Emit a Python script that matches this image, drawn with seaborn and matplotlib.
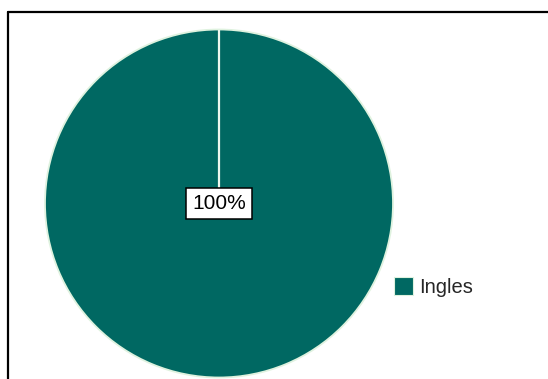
import matplotlib
matplotlib.use("Agg")
import matplotlib.pyplot as plt
from matplotlib.lines import Line2D
from matplotlib.patches import Patch
import seaborn as sns

sns.set_theme(style="white")
plt.rcParams["font.family"] = ["Liberation Sans", "DejaVu Sans"]

categories = ["Ingles"]
values = [100]
colors = ["#006862"]

W, H = 548, 379
fig = plt.figure(figsize=(W / 100, H / 100), dpi=100)
fig.patch.set_facecolor("white")

# pie axes: centre (219, 203.5) px, radius 174 px
cx, cy, r = 219, 203.5, 174
ax = fig.add_axes([(cx - r) / W, (H - cy - r) / H, 2 * r / W, 2 * r / H])
wedges, _ = ax.pie(values, colors=colors, startangle=90, counterclock=False,
                   radius=1, wedgeprops=dict(edgecolor="#dff2df", linewidth=1.3))
# seam of the full slice at twelve o'clock
ax.plot([0, 0], [0, 1], color="#eef8ee", lw=1.6, solid_capstyle="butt")
ax.set_xlim(-1.0, 1.0)
ax.set_ylim(-1.0, 1.0)
ax.axis("off")

pct = values[0] / sum(values) * 100
ax.text(0, 0, f"{pct:.0f}%", ha="center", va="center", fontsize=15, color="black",
        bbox=dict(boxstyle="square,pad=0.28", facecolor="white", edgecolor="black", lw=1.1))

handles = [Patch(facecolor=c, edgecolor="#dff2df", lw=0.8) for c in colors]
fig.legend(handles, categories, loc="center left",
           bbox_to_anchor=(394 / W, (H - 287) / H), frameon=False, fontsize=14.5,
           handlelength=0.95, handleheight=0.95, handletextpad=0.3,
           borderpad=0, borderaxespad=0)

# outer frame (top and left edges)
fig.add_artist(Line2D([8.3 / W, 1.0], [(H - 12) / H] * 2, color="black", lw=1.6,
                      transform=fig.transFigure))
fig.add_artist(Line2D([8.3 / W] * 2, [0, (H - 12) / H], color="black", lw=1.6,
                      transform=fig.transFigure))

fig.savefig("out.png", dpi=100)
